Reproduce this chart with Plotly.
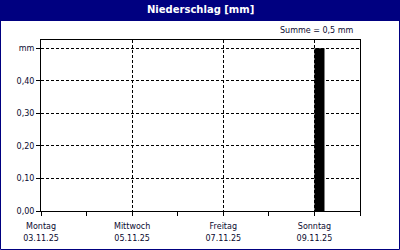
import plotly.graph_objects as go

# Data
bar_start = ["2025-11-09 00:00"]
bar_values = [0.5]
bar_hours = 5.3
x_tick_vals = ["2025-11-03", "2025-11-05", "2025-11-07", "2025-11-09"]
x_day_text = ["Montag", "Mittwoch", "Freitag", "Sonntag"]
x_date_text = ["03.11.25", "05.11.25", "07.11.25", "09.11.25"]
y_tick_vals = [0.0, 0.1, 0.2, 0.3, 0.4, 0.5]
y_tick_text = ["0,00", "0,10", "0,20", "0,30", "0,40", "mm"]
title_text = "Niederschlag [mm]"
sum_text = "Summe = 0,5 mm"

FONT = "DejaVu Sans, Liberation Sans, sans-serif"
NAVY = "#000080"
TXT = "#0a0a30"
XRANGE = ["2025-11-03", "2025-11-10"]

fig = go.Figure()
fig.add_trace(go.Bar(
    x=bar_start, y=bar_values,
    width=[bar_hours * 3600 * 1000] * len(bar_start),
    offset=0,
    marker=dict(color="#000000", line=dict(width=0)),
    hoverinfo="skip",
))
# invisible trace on the second x axis so that it renders
fig.add_trace(go.Scatter(x=x_tick_vals, y=[None] * len(x_tick_vals), xaxis="x2",
                         mode="markers", hoverinfo="skip", showlegend=False))

fig.update_layout(
    width=400, height=250,
    margin=dict(l=41, r=40, t=40, b=39, autoexpand=False),
    paper_bgcolor="white", plot_bgcolor="white",
    showlegend=False,
    font=dict(family=FONT, size=8, color=TXT),
    xaxis=dict(
        type="date",
        range=XRANGE,
        tickvals=x_tick_vals, ticktext=x_day_text,
        showgrid=True, gridcolor="#000000", griddash="3px,2px", gridwidth=1,
        showline=True, linecolor="#000000", linewidth=1, mirror=True,
        ticks="", tickfont=dict(size=8, color=TXT),
        ticklabelstandoff=7, automargin=False,
        minor=dict(ticks="outside", dtick=86400000, ticklen=4, tickcolor="#000000", showgrid=False),
        zeroline=False, fixedrange=True,
        layer="above traces",
    ),
    xaxis2=dict(
        type="date", overlaying="x", side="bottom", anchor="y",
        range=XRANGE,
        tickvals=x_tick_vals, ticktext=x_date_text,
        showgrid=False, showline=False, ticks="",
        tickfont=dict(size=8, color=TXT),
        ticklabelstandoff=21, automargin=False,
        zeroline=False, fixedrange=True,
    ),
    yaxis=dict(
        range=[0, 0.525],
        tickvals=y_tick_vals, ticktext=y_tick_text,
        showgrid=True, gridcolor="#000000", griddash="3px,2px", gridwidth=1,
        showline=True, linecolor="#000000", linewidth=1, mirror=True,
        ticks="outside", ticklen=4, tickcolor="#000000",
        tickfont=dict(size=8, color=TXT), automargin=False,
        zeroline=False, fixedrange=True,
        layer="above traces",
    ),
    shapes=[
        dict(type="rect", xref="paper", yref="paper", x0=-41/319, x1=1+40/319,
             y0=1+19/171, y1=1+40/171, fillcolor=NAVY, line=dict(width=0), layer="above"),
        dict(type="rect", xref="paper", yref="paper", x0=-40.5/319, x1=1+39.5/319,
             y0=-38.5/171, y1=1+40/171, fillcolor="rgba(0,0,0,0)",
             line=dict(color=NAVY, width=1), layer="above"),
    ],
    annotations=[
        dict(text="<b>" + title_text + "</b>", xref="paper", yref="paper",
             x=(200 - 41) / 319, y=1 + 30/171, xanchor="center", yanchor="middle",
             showarrow=False, font=dict(size=10, color="white", family=FONT)),
        dict(text=sum_text, xref="paper", yref="paper",
             x=1 - 4/319, y=1 + 10/171, xanchor="right", yanchor="middle",
             showarrow=False, font=dict(size=8, color=TXT, family=FONT)),
    ],
)

fig.write_html("out.html")
